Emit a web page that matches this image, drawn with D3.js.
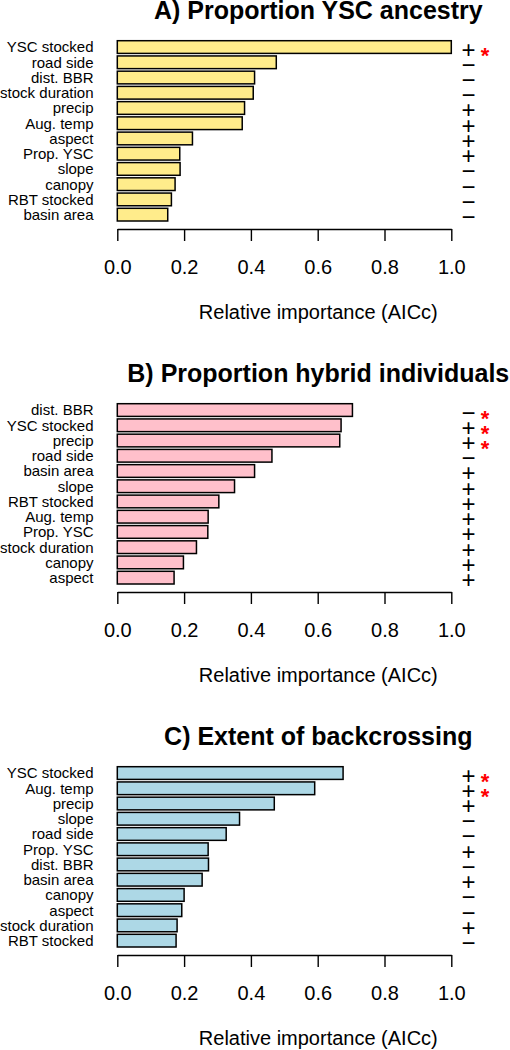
<!DOCTYPE html>
<html>
<head>
<meta charset="utf-8">
<script src="https://cdn.jsdelivr.net/npm/d3@7"></script>
<style>
html,body{margin:0;padding:0;background:#fff;}
#wrap{position:relative;width:510px;height:1050px;font-family:"Liberation Sans",Arial,Helvetica,sans-serif;}
svg{display:block;font-family:"Liberation Sans",Arial,Helvetica,sans-serif;}
.mark{position:absolute;height:15px;line-height:15px;text-align:center;white-space:nowrap;overflow:visible;}
</style>
</head>
<body>
<div id="wrap"><svg id="chart" width="510" height="1050"></svg></div>
<script>
// ---- data ----
const titles = ["A) Proportion YSC ancestry", "B) Proportion hybrid individuals", "C) Extent of backcrossing"];
const fills = ["#FFEC8B", "#FFC0CB", "#ADD8E6"];

const varsA = ["YSC stocked","road side","dist. BBR","stock duration","precip","Aug. temp","aspect","Prop. YSC","slope","canopy","RBT stocked","basin area"];
const valsA = [1.0, 0.476, 0.411, 0.407, 0.381, 0.374, 0.225, 0.187, 0.188, 0.173, 0.162, 0.151];
const signsA = ["+","−","−","−","+","+","+","+","−","−","−","−"];
const sigA = [true,false,false,false,false,false,false,false,false,false,false,false];

const varsB = ["dist. BBR","YSC stocked","precip","road side","basin area","slope","RBT stocked","Aug. temp","Prop. YSC","stock duration","canopy","aspect"];
const valsB = [0.704, 0.670, 0.666, 0.463, 0.411, 0.351, 0.304, 0.272, 0.271, 0.237, 0.198, 0.170];
const signsB = ["−","+","+","−","+","+","+","+","+","+","+","+"];
const sigB = [true,true,true,false,false,false,false,false,false,false,false,false];

const varsC = ["YSC stocked","Aug. temp","precip","slope","road side","Prop. YSC","dist. BBR","basin area","canopy","aspect","stock duration","RBT stocked"];
const valsC = [0.676, 0.591, 0.470, 0.366, 0.326, 0.272, 0.273, 0.254, 0.200, 0.193, 0.179, 0.176];
const signsC = ["+","+","+","−","−","+","−","+","−","−","+","−"];
const sigC = [true,true,false,false,false,false,false,false,false,false,false,false];

const xTicks = [0, 0.2, 0.4, 0.6, 0.8, 1.0];
const xTickLabels = ["0.0","0.2","0.4","0.6","0.8","1.0"];
const xTitle = "Relative importance (AICc)";

const panels = [
  {vars: varsA, vals: valsA, signs: signsA, sig: sigA},
  {vars: varsB, vals: valsB, signs: signsB, sig: sigB},
  {vars: varsC, vals: valsC, signs: signsC, sig: sigC}
];

// ---- drawing ----
const svg = d3.select("#chart");
const wrap = d3.select("#wrap");
const panelStep = 363;
const x = d3.scaleLinear().domain([0, 1]).range([117.3, 451.3]);
const titleX = 318.3;
const signX = 468.5;
const starX = 485;

panels.forEach((p, i) => {
  const off = i * panelStep;
  const g = svg.append("g").attr("transform", `translate(0,${off})`);
  const y = d3.scaleBand().domain(p.vars).range([40.7, 221]).paddingInner(0.2 / 1.2).paddingOuter(0);

  g.append("text")
    .attr("x", titleX).attr("y", 19)
    .attr("text-anchor", "middle")
    .attr("font-weight", "bold")
    .attr("font-size", 25)
    .text(titles[i]);

  g.selectAll("rect.bar").data(p.vars).enter().append("rect")
    .attr("class", "bar")
    .attr("x", x(0))
    .attr("y", d => y(d))
    .attr("width", (d, j) => x(p.vals[j]) - x(0))
    .attr("height", y.bandwidth())
    .attr("fill", fills[i])
    .attr("stroke", "#000")
    .attr("stroke-width", 1.5);

  g.selectAll("text.lab").data(p.vars).enter().append("text")
    .attr("class", "lab")
    .attr("x", 93.5)
    .attr("y", d => y(d) + y.bandwidth() / 2)
    .attr("dy", "0.36em")
    .attr("text-anchor", "end")
    .attr("font-size", 15)
    .text(d => d);

  // signs (+ / −) drawn as compact HTML text boxes aligned with the band scale
  wrap.selectAll(null).data(p.vars).enter().append("div")
    .attr("class", "mark")
    .style("left", (signX - 8) + "px")
    .style("width", "16px")
    .style("top", d => (off + y(d) + y.bandwidth() / 2 + 2 - 7.5) + "px")
    .style("font-size", "24px")
    .style("color", "#000")
    .text((d, j) => p.signs[j]);

  // significance stars
  wrap.selectAll(null).data(p.vars.filter((d, j) => p.sig[j])).enter().append("div")
    .attr("class", "mark")
    .style("left", (starX - 5) + "px")
    .style("width", "10px")
    .style("top", d => (off + y(d) + y.bandwidth() / 2 + 2 - 7.5 + 6) + "px")
    .style("font-size", "22px")
    .style("font-weight", "bold")
    .style("color", "#FF0000")
    .text("*");

  const axis = d3.axisBottom(x)
    .tickValues(xTicks)
    .tickFormat((d, j) => xTickLabels[j])
    .tickSizeInner(12)
    .tickSizeOuter(0)
    .tickPadding(19);
  const ax = g.append("g").attr("transform", "translate(0,229)").call(axis);
  ax.select(".domain").attr("stroke", "#000").attr("stroke-width", 1.4);
  ax.selectAll(".tick line").attr("stroke", "#000").attr("stroke-width", 1.4);
  ax.selectAll(".tick text").attr("font-size", 20).attr("fill", "#000")
    .attr("font-family", '"Liberation Sans",Arial,Helvetica,sans-serif');

  g.append("text")
    .attr("x", titleX).attr("y", 229 + 90)
    .attr("text-anchor", "middle")
    .attr("font-size", 20)
    .text(xTitle);
});
</script>
</body>
</html>
